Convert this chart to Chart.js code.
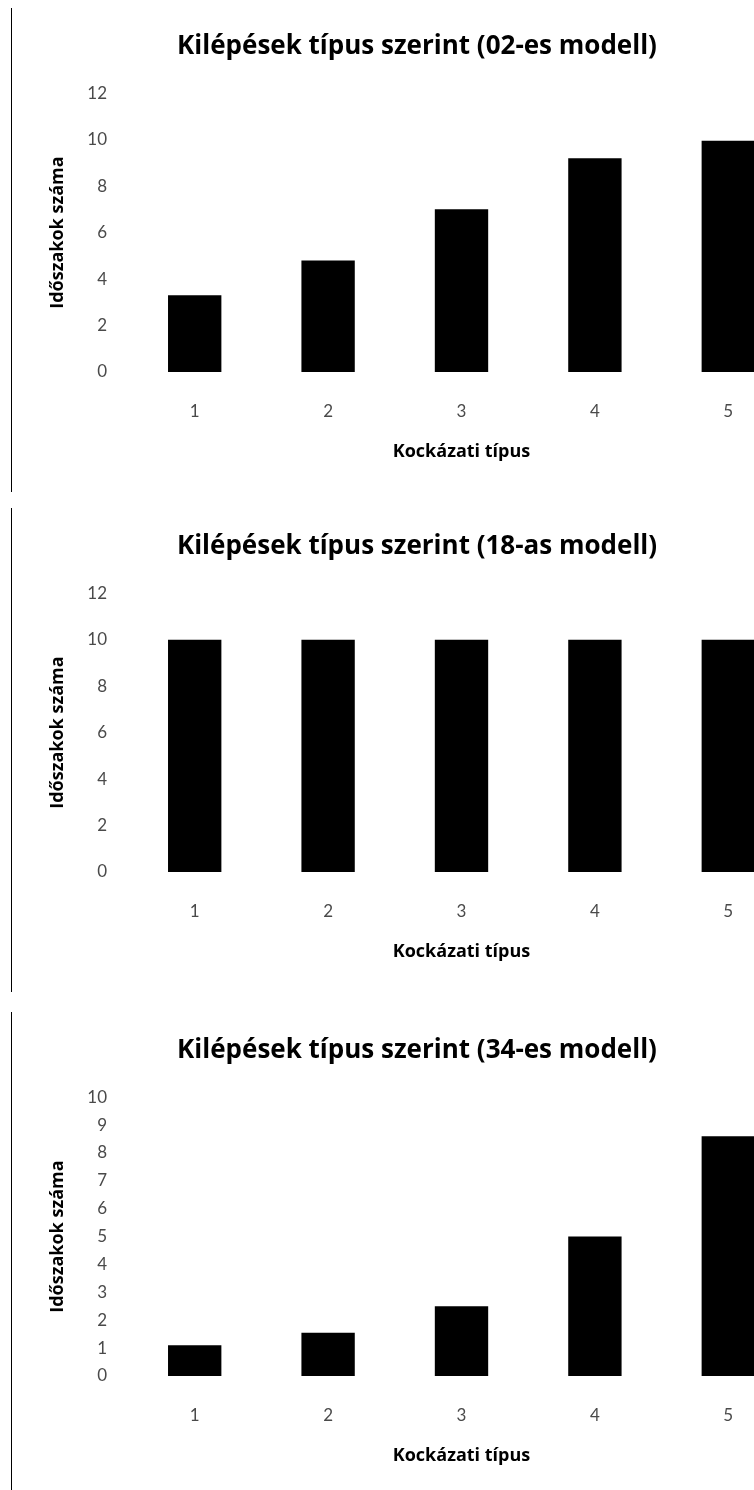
<!DOCTYPE html>
<html>
<head>
<meta charset="utf-8">
<script src="https://cdn.jsdelivr.net/npm/chart.js@4/dist/chart.umd.min.js"></script>
<style>
  html, body { margin: 0; padding: 0; background: #fff; }
  body { width: 754px; height: 1490px; overflow: hidden; position: relative; }
  .box { position: absolute; left: 11px; width: 811px; height: 484px; border-left: 1px solid #000; }
  .box canvas { display: block; }
</style>
</head>
<body>
<div class="box" style="top:8px"><canvas id="c1" width="810" height="484"></canvas></div>
<div class="box" style="top:508px"><canvas id="c2" width="810" height="484"></canvas></div>
<div class="box" style="top:1012px"><canvas id="c3" width="810" height="484"></canvas></div>
<script>
// data
const categories = ["1", "2", "3", "4", "5"];
const model02 = [3.3, 4.8, 7.0, 9.2, 9.95];
const model18 = [10, 10, 10, 10, 10];
const model34 = [1.1, 1.55, 2.5, 5.0, 8.6];

const titles = [
  "Kilépések típus szerint (02-es modell)",
  "Kilépések típus szerint (18-as modell)",
  "Kilépések típus szerint (34-es modell)"
];
const xTitle = "Kockázati típus";
const yTitle = "Időszakok száma";

const TICK_FONT = "Lato, 'Open Sans', sans-serif";
const TITLE_FONT = "'Open Sans', Lato, sans-serif";

// draw one bar chart
function drawChart(id, title, values, yMax, yStep) {
  const ctx = document.getElementById(id).getContext("2d");
  return new Chart(ctx, {
    type: "bar",
    data: {
      labels: categories,
      datasets: [{
        data: values,
        backgroundColor: "#000",
        barPercentage: 0.4,
        categoryPercentage: 1
      }]
    },
    options: {
      responsive: false,
      animation: false,
      layout: { padding: { top: 0, right: 27, bottom: 0, left: 27 } },
      plugins: {
        legend: { display: false },
        tooltip: { enabled: false },
        title: {
          display: true,
          text: title,
          color: "#000",
          font: { family: TITLE_FONT, size: 26, weight: "bold" },
          padding: { top: 23, bottom: 31 }
        }
      },
      scales: {
        x: {
          grid: { display: false, drawTicks: false },
          border: { display: false },
          ticks: { color: "#4a4a4a", font: { family: TICK_FONT, size: 17 }, padding: 29 },
          title: {
            display: true,
            text: xTitle,
            color: "#000",
            font: { family: TITLE_FONT, size: 18, weight: "bold" },
            padding: { top: 0, bottom: 29 }
          },
          afterFit: (scale) => { scale.height = 120; }
        },
        y: {
          min: 0,
          max: yMax,
          grid: { display: false, drawTicks: false },
          border: { display: false },
          ticks: { stepSize: yStep, color: "#4a4a4a", font: { family: TICK_FONT, size: 17 }, padding: 21 },
          title: {
            display: true,
            text: yTitle,
            color: "#000",
            font: { family: TITLE_FONT, size: 18, weight: "bold" },
            padding: { top: 8, bottom: 0 }
          },
          afterFit: (scale) => { scale.width = 89; }
        }
      }
    }
  });
}

drawChart("c1", titles[0], model02, 12, 2);
drawChart("c2", titles[1], model18, 12, 2);
drawChart("c3", titles[2], model34, 10, 1);
</script>
</body>
</html>
